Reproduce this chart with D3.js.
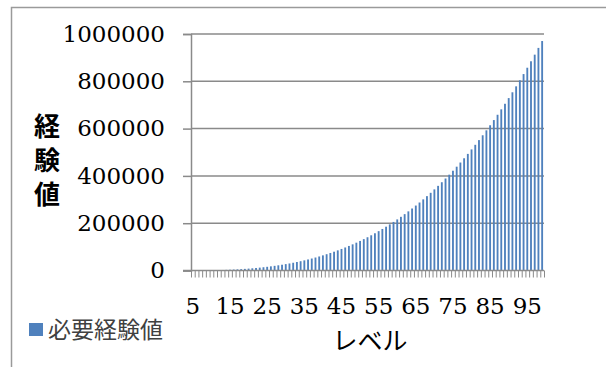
<!DOCTYPE html>
<html>
<head>
<meta charset="utf-8">
<script src="https://cdn.jsdelivr.net/npm/d3@7"></script>
<style>
  body { margin: 0; background: #fff; }
  svg { display: block; }
</style>
</head>
<body>
<div id="chart"></div>
<script>
// levels (categories) and required experience per level
const levels = [5, 6, 7, 8, 9, 10, 11, 12, 13, 14, 15, 16, 17, 18, 19, 20, 21, 22, 23, 24,
    25, 26, 27, 28, 29, 30, 31, 32, 33, 34, 35, 36, 37, 38, 39, 40, 41, 42, 43, 44,
    45, 46, 47, 48, 49, 50, 51, 52, 53, 54, 55, 56, 57, 58, 59, 60, 61, 62, 63, 64,
    65, 66, 67, 68, 69, 70, 71, 72, 73, 74, 75, 76, 77, 78, 79, 80, 81, 82, 83, 84,
    85, 86, 87, 88, 89, 90, 91, 92, 93, 94, 95, 96, 97, 98, 99];

const expValues = [125, 216, 343, 512, 729, 1000, 1331, 1728, 2197, 2744, 3375, 4096, 4913,
    5832, 6859, 8000, 9261, 10648, 12167, 13824, 15625, 17576, 19683, 21952, 24389, 27000,
    29791, 32768, 35937, 39304, 42875, 46656, 50653, 54872, 59319, 64000, 68921, 74088,
    79507, 85184, 91125, 97336, 103823, 110592, 117649, 125000, 132651, 140608, 148877,
    157464, 166375, 175616, 185193, 195112, 205379, 216000, 226981, 238328, 250047, 262144,
    274625, 287496, 300763, 314432, 328509, 343000, 357911, 373248, 389017, 405224, 421875,
    438976, 456533, 474552, 493039, 512000, 531441, 551368, 571787, 592704, 614125, 636056,
    658503, 681472, 704969, 729000, 753571, 778688, 804357, 830584, 857375, 884736, 912673,
    941192, 970299];

const yTicks = [0, 200000, 400000, 600000, 800000, 1000000];
const xLabels = [5, 15, 25, 35, 45, 55, 65, 75, 85, 95];
const seriesName = "必要経験値";
const xTitle = "レベル";
const yTitle = "経験値";

const data = levels.map((lv, i) => ({level: lv, value: expValues[i]}));

const W = 606, H = 367;
const plotLeft = 191, plotRight = 544, plotTop = 34, plotBottom = 270.5;
const numFont = "DejaVu Serif";

const svg = d3.select("#chart").append("svg")
    .attr("width", W)
    .attr("height", H);

// outer chart frame (only top and left edges fall inside the picture)
svg.append("rect")
    .attr("x", 11.5).attr("y", 7.5)
    .attr("width", 700).attr("height", 500)
    .attr("fill", "none")
    .attr("stroke", "#9a9a9a")
    .attr("stroke-width", 1.5);

// scales
const x = d3.scaleBand()
    .domain(levels)
    .range([plotLeft, plotRight])
    .paddingInner(0.5)
    .paddingOuter(0.25);

const xEdge = d3.scaleLinear()
    .domain([0, levels.length])
    .range([plotLeft, plotRight]);

const y = d3.scaleLinear()
    .domain([0, 1000000])
    .range([plotBottom, plotTop]);

// gridlines
svg.append("g")
    .selectAll("line")
    .data(yTicks.filter(d => d > 0))
    .join("line")
    .attr("x1", plotLeft).attr("x2", plotRight)
    .attr("y1", d => y(d)).attr("y2", d => y(d))
    .attr("stroke", "#8a8a8a")
    .attr("stroke-width", 1.5);

// bars
svg.append("g")
    .selectAll("rect")
    .data(data)
    .join("rect")
    .attr("x", d => x(d.level))
    .attr("y", d => y(d.value))
    .attr("width", x.bandwidth())
    .attr("height", d => y(0) - y(d.value))
    .attr("fill", "#4f81bd");

// y axis
const yAxis = svg.append("g")
    .attr("transform", `translate(${plotLeft},0)`)
    .call(d3.axisLeft(y).tickValues(yTicks).tickSize(8).tickPadding(18).tickFormat(d3.format("d")))
    .attr("font-family", numFont)
    .attr("font-size", 23);
yAxis.select(".domain").attr("stroke", "#8a8a8a").attr("stroke-width", 1.5);
yAxis.selectAll(".tick line").attr("stroke", "#8a8a8a").attr("stroke-width", 1.5);
yAxis.selectAll("text").attr("fill", "#000");

// x axis tick marks at category boundaries
const xTickAxis = svg.append("g")
    .attr("transform", `translate(0,${plotBottom})`)
    .call(d3.axisBottom(xEdge).tickValues(d3.range(levels.length + 1)).tickSize(7).tickFormat(""));
xTickAxis.select(".domain").remove();
xTickAxis.selectAll(".tick line").attr("stroke", "#8a8a8a").attr("stroke-width", 1);

svg.append("line")
    .attr("x1", plotLeft - 8).attr("x2", plotRight)
    .attr("y1", plotBottom).attr("y2", plotBottom)
    .attr("stroke", "#8a8a8a")
    .attr("stroke-width", 1.5);

// x labels
const xAxis = svg.append("g")
    .attr("transform", `translate(0,${plotBottom})`)
    .call(d3.axisBottom(x).tickValues(xLabels).tickSize(0).tickPadding(27))
    .attr("font-family", numFont)
    .attr("font-size", 23);
xAxis.select(".domain").remove();
xAxis.selectAll("text").attr("fill", "#000");

// axis titles
svg.append("text")
    .attr("x", 370)
    .attr("y", 350)
    .attr("text-anchor", "middle")
    .style("font-family", "'Noto Sans CJK JP', sans-serif")
    .style("font-size", "25px")
    .text(xTitle);

svg.append("text")
    .attr("x", 47)
    .attr("y", 113)
    .style("writing-mode", "vertical-rl")
    .style("letter-spacing", "8px")
    .style("font-family", "'Noto Sans CJK JP', sans-serif")
    .style("font-size", "26px")
    .style("font-weight", "bold")
    .text(yTitle);

// legend
svg.append("rect")
    .attr("x", 29).attr("y", 323)
    .attr("width", 14).attr("height", 13)
    .attr("fill", "#4f81bd");

svg.append("text")
    .attr("x", 48)
    .attr("y", 338)
    .style("font-family", "'Noto Sans CJK JP', sans-serif")
    .style("font-size", "23px")
    .attr("fill", "#404040")
    .text(seriesName);
</script>
</body>
</html>
